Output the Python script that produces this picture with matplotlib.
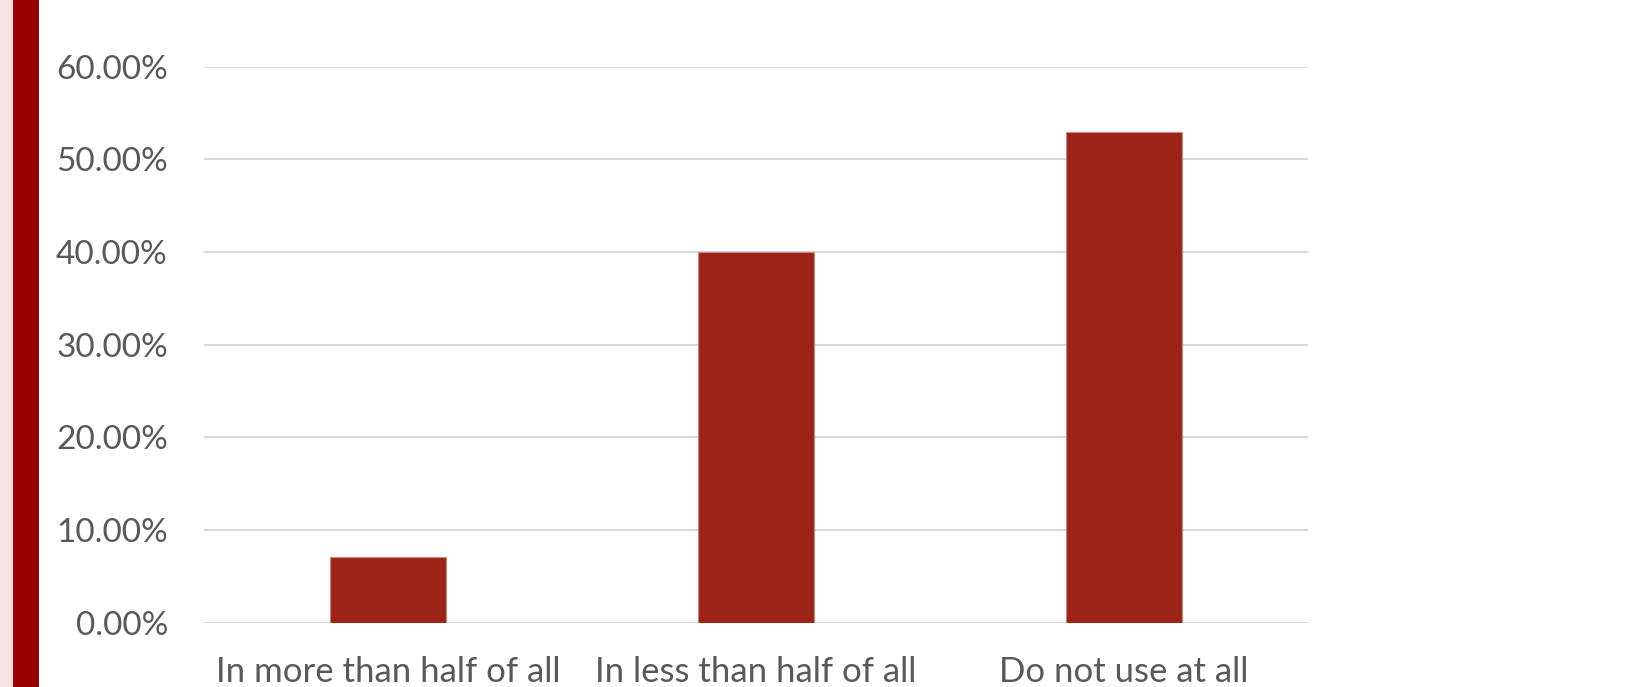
import matplotlib
matplotlib.use("Agg")
import matplotlib.pyplot as plt
from matplotlib.patches import Rectangle
from matplotlib.ticker import FuncFormatter

categories = ["In more than half of all", "In less than half of all", "Do not use at all"]
values = [0.0706, 0.4000, 0.5294]
yticks = [0.0, 0.1, 0.2, 0.3, 0.4, 0.5, 0.6]

W, H = 1634, 687
fig = plt.figure(figsize=(W / 100, H / 100), dpi=100)
fig.patch.set_facecolor("white")

# left decorative strips
fig.patches.append(Rectangle((0, 0), 12.5 / W, 1, transform=fig.transFigure,
                             facecolor="#F6E4E2", edgecolor="none", zorder=0))
fig.patches.append(Rectangle((12.5 / W, 0), 26 / W, 1, transform=fig.transFigure,
                             facecolor="#990000", edgecolor="none", zorder=0))

left, right = 204 / W, 1308 / W
bottom, top = 1 - 622.7 / H, 1 - 66.7 / H
ax = fig.add_axes([left, bottom, right - left, top - bottom])

x = range(len(categories))
ax.bar(x, values, width=0.315, color="#9B2318", edgecolor="#C98A84", linewidth=0.8, zorder=3)

ax.set_xlim(-0.5, len(categories) - 0.5)
ax.set_ylim(0, 0.6)
ax.set_yticks(yticks)
ax.yaxis.set_major_formatter(FuncFormatter(lambda v, p: f"{v*100:.2f}%"))
ax.set_xticks(list(x))
ax.set_xticklabels(categories)

ax.grid(axis="y", color="#D9D9D9", linewidth=1.5, zorder=0)
ax.set_axisbelow(True)
for s in ax.spines.values():
    s.set_visible(False)
ax.tick_params(axis="both", length=0, colors="#595959")
ax.tick_params(axis="y", pad=26, labelsize=24)
ax.tick_params(axis="x", pad=24, labelsize=25)
for lab in ax.get_xticklabels() + ax.get_yticklabels():
    lab.set_family(["Lato", "DejaVu Sans"])
    lab.set_color("#595959")

fig.savefig("out.png", dpi=100, facecolor="white")
